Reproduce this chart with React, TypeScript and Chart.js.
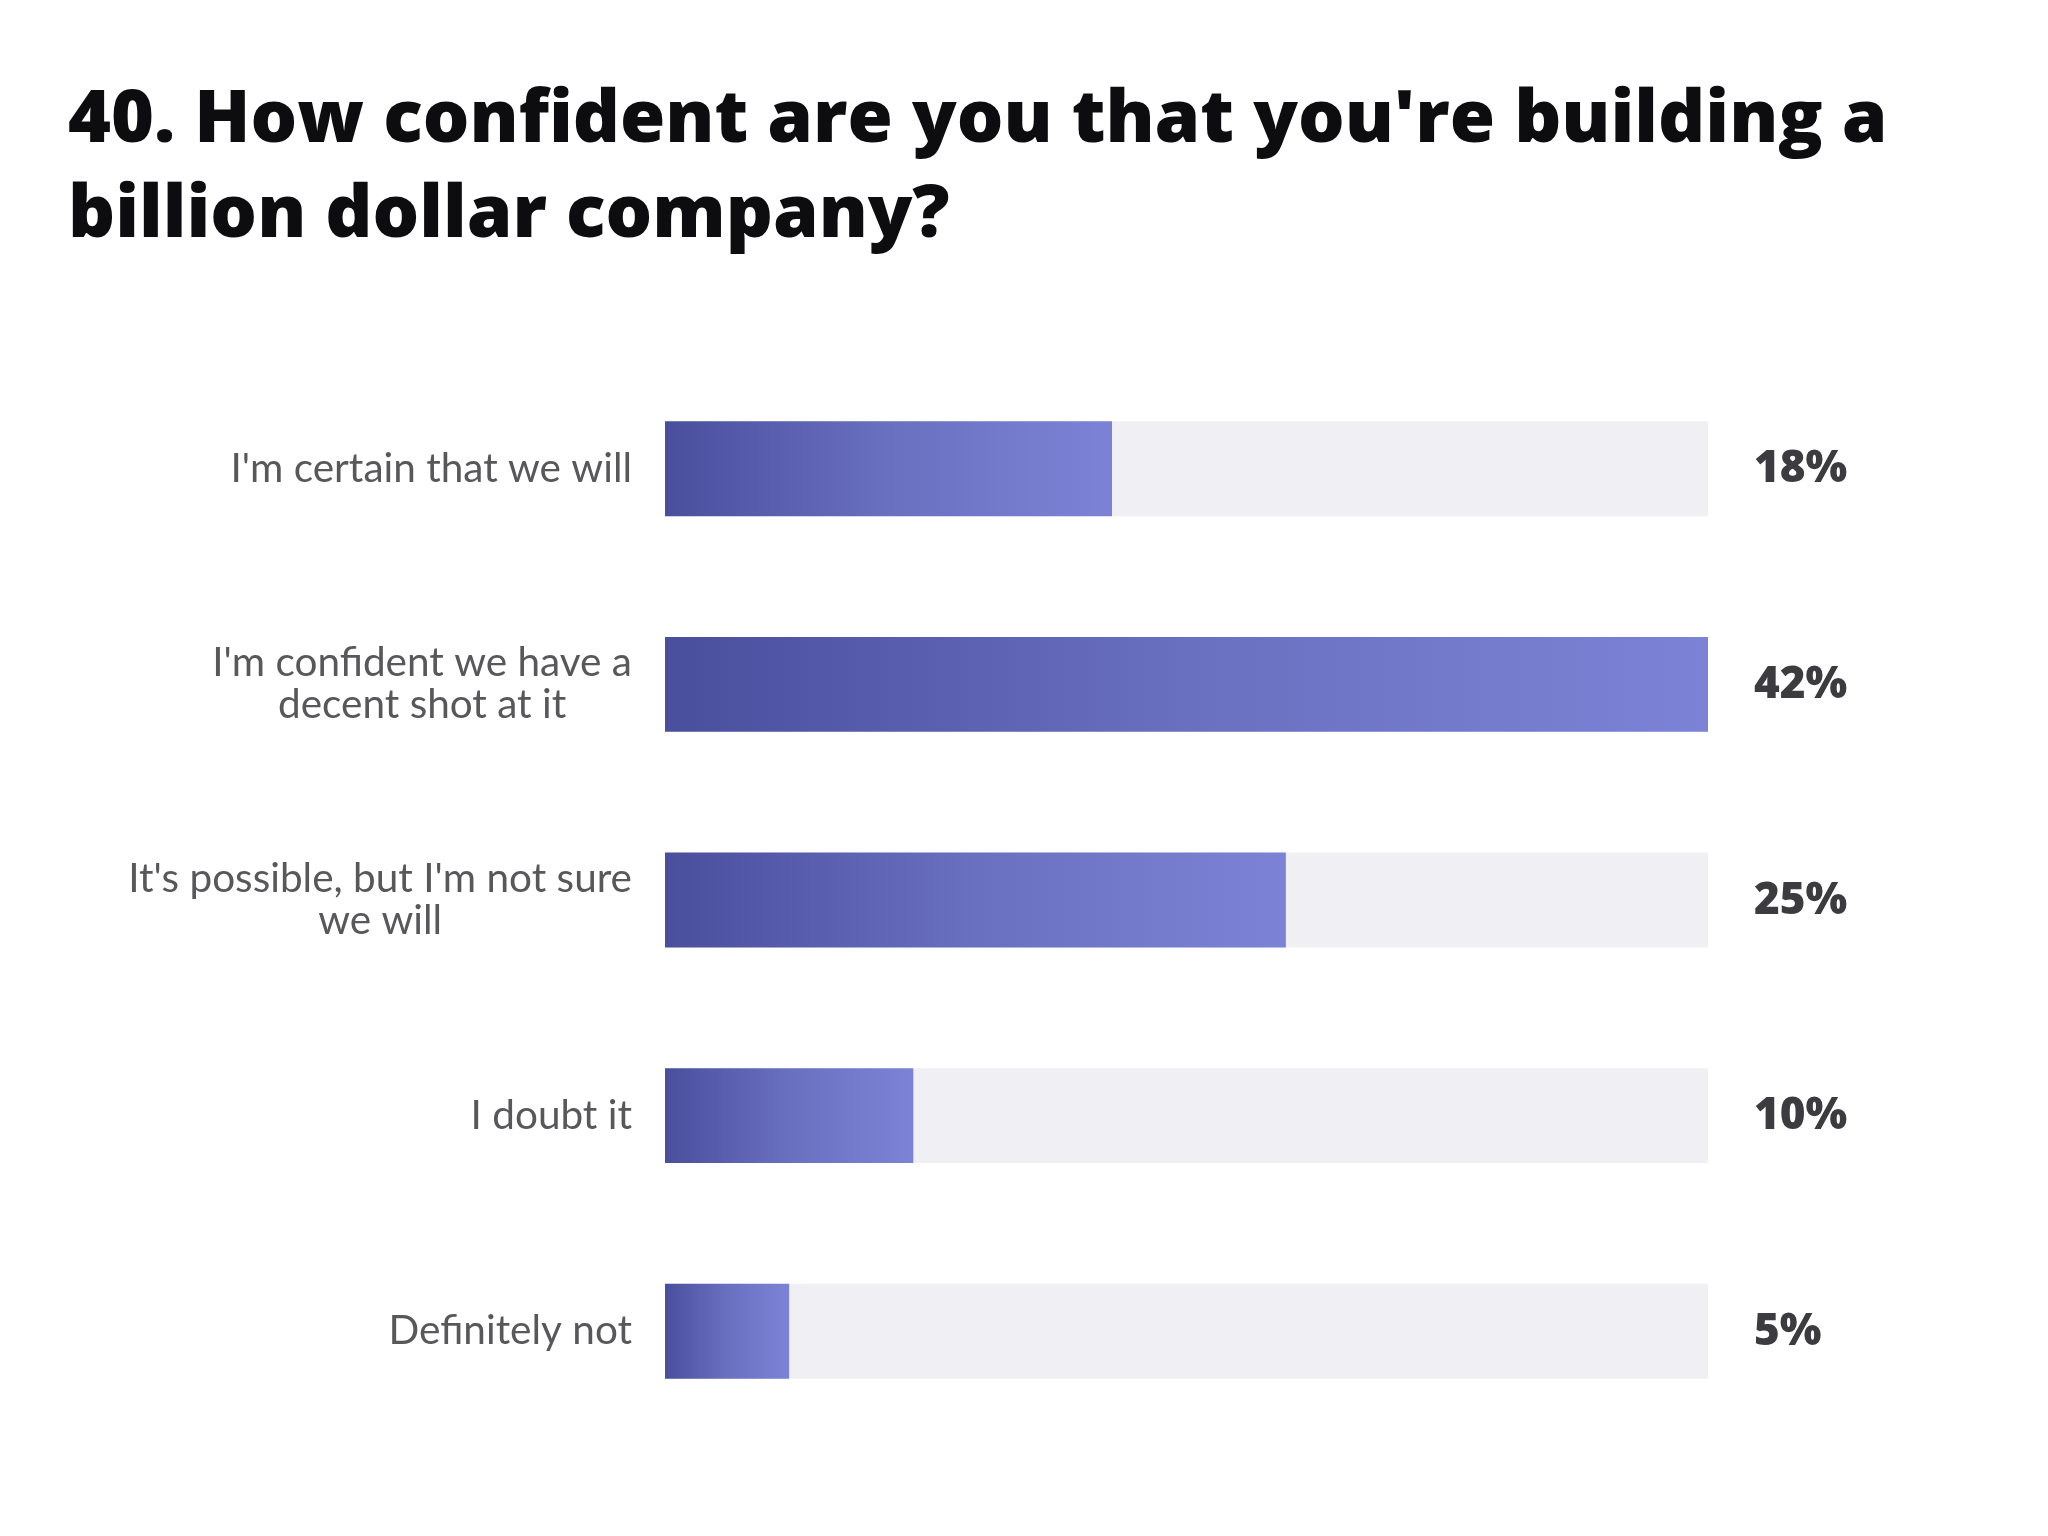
import React, { useEffect, useRef } from 'react';
import { Chart, BarController, BarElement, CategoryScale, LinearScale, Plugin } from 'chart.js';

Chart.register(BarController, BarElement, CategoryScale, LinearScale);

const titleLines = ["40. How confident are you that you're building a", 'billion dollar company?'];

const categories: string[][] = [
    ["I'm certain that we will"],
    ["I'm confident we have a", 'decent shot at it'],
    ["It's possible, but I'm not sure", 'we will'],
    ['I doubt it'],
    ['Definitely not'],
];

const values = [18, 42, 25, 10, 5];

const valueLabels = ['18%', '42%', '25%', '10%', '5%'];

// the grey track runs to the top of the scale
const scaleMax = 42;

const FONT = "Lato, 'Open Sans', sans-serif";
const HEAVY = "'Open Sans', Lato, sans-serif";

/**
 * Draws the answer labels left of the bars: a single line is right aligned,
 * a wrapped label is centred on its own widest line.
 */
const answerLabels: Plugin<'bar'> = {
    id: 'answerLabels',
    afterDraw: (chart) => {
        const { ctx, chartArea } = chart;
        const yScale = chart.scales.y;
        const right = chartArea.left - 33;
        const lineHeight = 42;
        ctx.save();
        ctx.font = `400 40.5px ${FONT}`;
        ctx.fillStyle = '#58585b';
        ctx.textAlign = 'center';
        ctx.textBaseline = 'middle';
        categories.forEach((lines, i) => {
            const yc = yScale.getPixelForValue(i);
            const widest = Math.max(...lines.map((l) => ctx.measureText(l).width));
            const cx = right - widest / 2;
            const top = yc - ((lines.length - 1) * lineHeight) / 2;
            lines.forEach((l, j) => ctx.fillText(l, cx, top + j * lineHeight));
        });
        ctx.restore();
    },
};

/**
 * Percent values to the right of the grey tracks
 */
const percentLabels: Plugin<'bar'> = {
    id: 'percentLabels',
    afterDraw: (chart) => {
        const { ctx, chartArea } = chart;
        const yScale = chart.scales.y;
        ctx.save();
        ctx.font = `800 44px ${HEAVY}`;
        ctx.fillStyle = '#3b3b40';
        ctx.textAlign = 'left';
        ctx.textBaseline = 'middle';
        valueLabels.forEach((t, i) => {
            ctx.fillText(t, chartArea.right + 46, yScale.getPixelForValue(i) + 1);
        });
        ctx.restore();
    },
};

const ConfidenceChart: React.FC = () => {
    const canvas = useRef<HTMLCanvasElement>(null);

    useEffect(() => {
        const el = canvas.current;
        if (!el) return;

        const chart = new Chart(el, {
            type: 'bar',
            data: {
                labels: categories.map((c) => c.join(' ')),
                datasets: [
                    {
                        data: values,
                        order: 0,
                        grouped: false,
                        barPercentage: 0.44,
                        categoryPercentage: 1,
                        borderWidth: 0,
                        backgroundColor: (context) => {
                            const c = context.chart;
                            const x = c.scales.x;
                            const i = context.dataIndex;
                            if (!x || !c.chartArea || i === undefined) return '#6268bb';
                            const x0 = x.getPixelForValue(0);
                            const x1 = x.getPixelForValue(values[i]);
                            const gradient = c.ctx.createLinearGradient(x0, 0, x1, 0);
                            gradient.addColorStop(0, '#494f9d');
                            gradient.addColorStop(0.5, '#6a70c0');
                            gradient.addColorStop(1, '#7c83d6');
                            return gradient;
                        },
                    },
                    {
                        data: categories.map(() => scaleMax),
                        order: 1,
                        grouped: false,
                        barPercentage: 0.44,
                        categoryPercentage: 1,
                        borderWidth: 0,
                        backgroundColor: '#f0eff4',
                    },
                ],
            },
            options: {
                indexAxis: 'y',
                animation: false,
                responsive: true,
                maintainAspectRatio: false,
                layout: {
                    padding: { top: 353, bottom: 89, left: 657, right: 332 },
                },
                scales: {
                    x: { display: false, min: 0, max: scaleMax },
                    y: { display: false },
                },
                plugins: {
                    legend: { display: false },
                    tooltip: { enabled: false },
                },
            },
            plugins: [answerLabels, percentLabels],
        });
        return () => chart.destroy();
    }, []);

    return (
        <div style={{ position: 'relative', width: 2032, height: 1520, background: '#fff' }}>
            <canvas ref={canvas}></canvas>
            <div
                style={{
                    position: 'absolute',
                    left: 60,
                    top: 59,
                    fontFamily: HEAVY,
                    fontWeight: 800,
                    fontSize: 73.4,
                    lineHeight: '95px',
                    color: '#0d0d0f',
                    whiteSpace: 'nowrap',
                }}
            >
                {titleLines[0]}
                <br />
                {titleLines[1]}
            </div>
        </div>
    );
};

export default function App() {
    return <ConfidenceChart />;
}
